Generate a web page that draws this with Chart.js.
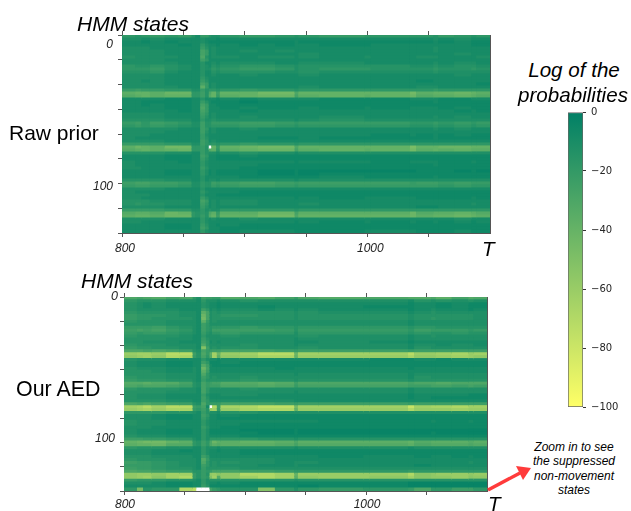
<!DOCTYPE html>
<html>
<head>
<meta charset="utf-8">
<script src="https://cdn.jsdelivr.net/npm/chart.js@4"></script>
<style>
  html, body { margin: 0; padding: 0; background: #fff; overflow: hidden; }
  body { position: relative; width: 631px; height: 511px; font-family: "Liberation Sans", sans-serif; color: #000; }
  canvas { position: absolute; }
  .heat { filter: blur(0.6px); }
  .txt { position: absolute; line-height: 1; font-size: 20.6px; white-space: nowrap; }
  .big { font-size: 21px; }
  .it { font-style: italic; }
  .mid { transform: translateX(-50%); }
  .note { position: absolute; left: 574px; top: 440px; transform: translateX(-50%); text-align: center; font-style: italic; font-size: 12px; line-height: 14.4px; white-space: nowrap; }
  svg { position: absolute; left: 0; top: 0; }
</style>
</head>
<body>
<canvas id="rawChart" class="heat" width="440" height="250" style="left:60px;top:20px"></canvas>
<canvas id="aedChart" class="heat" width="437" height="228" style="left:60px;top:282px"></canvas>
<canvas id="barChart" width="73" height="320" style="left:558px;top:100px"></canvas>

<div class="txt it big" style="left:77px;top:13px">HMM states</div>
<div class="txt it big" style="left:81px;top:270px">HMM states</div>
<div class="txt it" style="left:111px;top:290px;font-size:12.5px;color:#222">0</div>
<div class="txt big" style="left:9px;top:122px">Raw prior</div>
<div class="txt" style="left:16px;top:379px;font-size:21.4px">Our AED</div>
<div class="txt it" style="left:482px;top:239px">T</div>
<div class="txt it" style="left:488px;top:494px">T</div>
<div class="txt it mid" style="left:574px;top:60px">Log of the</div>
<div class="txt it mid" style="left:573px;top:85px">probabilities</div>
<div class="note">Zoom in to see<br>the suppressed<br>non-movement<br>states</div>
<svg width="631" height="511">
  <line x1="488" y1="490" x2="520" y2="473" stroke="#ff3b3b" stroke-width="3.5"/>
  <polygon points="531,468 516,466 523,480" fill="#ff3b3b"/>
</svg>

<script>
// start of each time block, blocks run to tEnd
const tStarts = [800,811,816,823,835,846,857,860,864,868,871,873,877,880,896,911,925,941,944,961,998,1003,1035,1040,1054,1058,1071,1085,1089];
const tEnd = 1100;
const tLabels = [800, 1000];
const stateTicks = [0, 16.67, 33.33, 50, 66.67, 83.33, 100, 116.67, 133.33];
const barTicks = [0, -20, -40, -60, -80, -100];

// one string per row of states, one base-36 digit per time block, log prob = digit * -3, "." = off the scale
const rawPrior = [
  "656767 5377544 6776 5 6766 6657656",
  "443433 3343332 3333 3 3333 3343433",
  "332323 3343222 2222 3 2222 2232322",
  "333332 3364332 3232 3 3223 3333322",
  "444333 3375343 3333 3 3333 3343333",
  "444433 3397343 3434 3 3333 3343333",
  "444433 3397343 3333 3 4333 3333433",
  "544443 33a5344 4344 3 4343 3443334",
  "444433 3386333 3333 3 3333 3333333",
  "444443 3353343 4443 3 4433 3343443",
  "655654 3354354 5665 4 5555 4454554",
  "666754 3354465 6776 4 5665 5565565",
  "555643 3353354 5554 4 5444 4454444",
  "444433 3353343 3433 3 4333 3333433",
  "444433 3364333 3333 3 3333 3333333",
  "443433 3375333 3333 3 3333 3233333",
  "444433 3397343 3333 3 3333 3333332",
  "444443 33c7343 3333 3 4333 3443333",
  "787766 4475665 6766 5 6666 6676666",
  "cddcee 6685ad8 ddff a dddd fcddedc",
  "bcdcdd 6685bd7 cdee 9 cdcd ebccdcb",
  "333322 3353332 3233 3 3222 3332233",
  "332222 3375322 2122 2 2222 2232222",
  "332322 3397332 2222 2 2222 2222222",
  "333322 33a7333 2322 2 3232 3332322",
  "333332 3397333 3233 3 3333 3333232",
  "444433 3386343 3333 3 3333 3333333",
  "444433 3375343 3433 3 3433 3343433",
  "555544 3364454 4444 3 4544 4444444",
  "786876 4485577 7887 6 7777 6676767",
  "676765 4485566 6776 5 6666 5565656",
  "444443 3386343 3433 3 3333 3343433",
  "444433 3385343 3333 3 3333 3333333",
  "444333 3374333 3333 3 3332 3232322",
  "433333 3375333 3322 2 3222 2232222",
  "444433 3386343 3333 3 3333 3333333",
  "777766 4486565 6766 5 6666 6666666",
  "cedcff 6675.d7 deff a dddd gddeedd",
  "bcdcde 6675bc6 cdee 9 cdcd fcdcdcc",
  "555544 3375443 4544 3 4444 4444444",
  "333322 3386332 2322 2 2222 2222222",
  "333322 3375332 2222 2 2222 2222222",
  "433332 3364333 3333 2 3332 3332232",
  "433333 3364333 3322 2 2222 2232222",
  "443333 3375333 3222 2 2222 2222222",
  "333322 3364232 2211 2 1111 1222121",
  "333322 3364232 2211 2 1222 2222222",
  "333333 3353333 3222 2 2322 2232222",
  "555544 3353443 4444 3 4444 4444444",
  "899887 4465587 8998 7 8888 7887877",
  "788776 4465576 7887 6 7777 7776766",
  "444433 3353333 3333 3 3333 3333333",
  "433333 3364333 3222 2 2222 2222222",
  "444333 3353332 2222 2 2222 2222222",
  "443333 3375333 3333 2 3233 3222232",
  "555444 3397343 4433 3 3333 3333333",
  "565544 3386343 4433 3 4333 3333343",
  "444433 3375343 3333 3 3333 3223333",
  "777766 4464544 6666 5 6666 6666666",
  "bccbed 6565ac7 ccee 9 cccc ebccdcb",
  "cddcee 6575bd8 ddff a dddd ecddedc",
  "444433 3364343 3433 3 3333 3333433",
  "443333 3364333 3333 2 3232 3232323",
  "333322 3375332 3222 2 2222 2222222",
  "333322 3386333 2222 2 2222 2222222",
  "333333 3364333 2333 2 2233 3222322"
];

const ourAed = [
  "a9ab9a 6498877 bab9 7 abaa bbac9ba",
  "655544 4364443 4544 4 4444 3545454",
  "543433 3354332 3333 3 3333 2332322",
  "543433 3354332 3323 3 3322 2332322",
  "544443 3386343 4434 3 4333 2343323",
  "655554 43c9454 5555 4 5444 3454444",
  "766654 43e9455 6655 4 5555 4555554",
  "766555 43f9455 5555 4 5555 4565554",
  "655544 43c7454 4444 4 4444 3444444",
  "555544 4386444 4444 4 4444 3444444",
  "777865 4386566 6766 5 6666 5665555",
  "898976 4386588 8887 5 7777 6877767",
  "767765 4375466 7666 4 6666 5655655",
  "655554 3364444 5444 4 5444 3454444",
  "555544 3375444 4444 3 4444 3444444",
  "554443 3386343 4444 3 3443 2333333",
  "655544 43a6444 4544 3 4444 3443443",
  "766554 43h8454 5544 4 5444 3544444",
  "aa9a98 5497788 9998 7 8888 7888888",
  "kllkoo 85a7cle kloo e llll okklmkl",
  "jkljnm 7596blc jkmm d kkkk mjjklkj",
  "544433 3364332 3333 3 3332 2332333",
  "433322 3386222 3222 2 2222 2222222",
  "433322 33b8322 2222 2 2222 2222222",
  "544433 43e9333 3332 3 3333 2333333",
  "555433 43c8333 3333 3 3333 3333333",
  "555544 43a6444 4444 3 4444 3444444",
  "655544 4386454 4544 4 4444 3544444",
  "766655 4375555 5655 4 5555 4555555",
  "bbcbb9 5497899 bbcb 8 aaaa 9aabaaa",
  "a9aa98 5497888 aaba 7 9999 8899898",
  "655554 4396444 4544 4 4444 3444444",
  "555544 4396444 4444 3 4444 3444444",
  "544433 3374333 4433 3 3333 2333322",
  "544433 3385333 3333 3 3333 2322222",
  "555544 3386444 4444 3 3333 3333333",
  "a9a988 54a6777 9998 7 8888 7888888",
  "lmoloo 8793.n8 mnpp f llll qlmmnll",
  "klmkmm 7685kl7 kmnn d kkkk nkkklkk",
  "666655 4375443 5544 4 4444 4444444",
  "444322 3386332 3222 2 2222 2222222",
  "444322 3375332 2222 2 2222 2222222",
  "544433 3364333 3333 3 3222 2232232",
  "544433 3364333 3222 2 2222 2222222",
  "444333 3375333 2222 2 2222 2222222",
  "433322 3364222 2111 2 1111 1111111",
  "433322 3364222 2211 2 1111 1121111",
  "544433 3364333 3222 2 2222 2222222",
  "887766 4364666 6655 4 5555 5555555",
  "deffdc 6586aec cddc a cccc dbcccbc",
  "cddebb 6586acb cccb 9 bbbb cabbbab",
  "655544 3364443 4444 3 4444 3444444",
  "444332 3364332 3222 2 2222 2222222",
  "444333 3364333 3222 2 2222 2222222",
  "555444 3386333 3333 3 3233 3233232",
  "655544 43b7444 4443 3 3333 3333333",
  "877654 43a6454 5443 4 4333 3333343",
  "777654 4386454 4433 4 3333 3233333",
  "877655 4375555 5444 4 4444 4444444",
  "a99877 5576799 9887 6 6666 7666666",
  "jkkjll 7575jki jnnl d kkkk nijkkjk",
  "jkliln 7576hlb jlnl c jkkj lijjkij",
  "766655 4364555 5555 4 5555 5555555",
  "444322 3364332 3222 2 2222 1111111",
  "333322 3375222 2222 2 1222 1111111",
  "6g566n p...976 55h6 4 6766 7a66886"
];

const axisColor = "#555";
const sans = "'Liberation Sans', sans-serif";

// summer_r colormap
function logColor(v) {
  if (isNaN(v)) return "#fff";
  const r = -v / 100;
  return `rgb(${Math.round(255 * r)},${Math.round(128 + 127 * r)},102)`;
}

function cellValue(row, col) {
  const ch = row.replace(/ /g, "").charAt(col);
  return ch === "." ? NaN : parseInt(ch, 36) * -3;
}

function fixSize(prop, size) {
  return (scale) => { scale[prop] = size; };
}

function heatmap(id, rows, g) {
  // blocks run to tEnd and later ones paint over earlier ones, so no seams show between them
  // (chart.js draws low "order" last)
  const datasets = tStarts.map((t, col) => ({
    data: rows.map(() => [t, tEnd]),
    backgroundColor: rows.map((row) => logColor(cellValue(row, col))),
    borderWidth: 0,
    grouped: false,
    order: -col,
    barThickness: 3.5
  }));

  const tickGrid = { drawOnChartArea: false, tickLength: 4, tickColor: axisColor, offset: false };
  const edge = { color: axisColor, width: 1 };
  const tScale = (pos, size, showLabels, padding) => ({
    type: "linear",
    axis: "x",
    position: pos,
    min: 800,
    max: tEnd,
    grid: tickGrid,
    border: edge,
    afterFit: fixSize("height", size),
    afterBuildTicks: (s) => { s.ticks = s.ticks.filter((t) => t.value < tEnd); },
    ticks: {
      stepSize: 50,
      autoSkip: false,
      maxRotation: 0,
      padding: padding,
      labelOffset: g.xOffset,
      color: "#222",
      font: { family: sans, size: 12, style: "italic" },
      callback: (v) => (showLabels && tLabels.includes(v) ? String(v) : "")
    }
  });

  new Chart(document.getElementById(id), {
    type: "bar",
    data: { labels: rows.map((_, i) => i), datasets: datasets },
    options: {
      indexAxis: "y",
      responsive: false,
      animation: false,
      plugins: { legend: { display: false }, tooltip: { enabled: false } },
      scales: {
        y: { type: "category", display: false },
        x: tScale("bottom", g.bottom, true, g.xPadding),
        xTop: tScale("top", 15, false, 0),
        states: {
          type: "linear",
          axis: "y",
          position: "left",
          reverse: true,
          offset: false,
          min: 0,
          max: 133.33,
          grid: tickGrid,
          border: edge,
          afterFit: fixSize("width", g.left),
          afterBuildTicks: (s) => { s.ticks = stateTicks.map((v) => ({ value: v })); },
          ticks: {
            autoSkip: false,
            padding: 5,
            labelOffset: g.yOffset,
            color: "#222",
            font: { family: sans, size: 12, style: "italic", lineHeight: g.lineHeight },
            callback: (v) => (v === 0 ? g.zero : v === 100 ? g.hundred : "")
          }
        },
        rightEdge: {
          type: "linear",
          axis: "y",
          position: "right",
          offset: false,
          min: 0,
          max: 1,
          grid: { display: false },
          border: edge,
          ticks: { display: false },
          afterFit: fixSize("width", 10)
        }
      }
    }
  });
}

heatmap("rawChart", rawPrior, {
  left: 62, bottom: 37, xOffset: 3, xPadding: 4,
  yOffset: 3, lineHeight: "14px", zero: ["", "0"], hundred: "100"
});

// the "0" of this chart sits right on the top edge, it is a div in the page above
heatmap("aedChart", ourAed, {
  left: 64, bottom: 19, xOffset: 1, xPadding: 2,
  yOffset: 0, lineHeight: "8px", zero: "", hundred: ["100", ""]
});

// colour bar
new Chart(document.getElementById("barChart"), {
  type: "bar",
  data: {
    labels: [""],
    datasets: [{
      data: [[-100, 0]],
      backgroundColor: (ctx) => {
        const area = ctx.chart.chartArea;
        if (!area) return logColor(-50);
        const grad = ctx.chart.ctx.createLinearGradient(0, area.top, 0, area.bottom);
        grad.addColorStop(0, logColor(0));
        grad.addColorStop(1, logColor(-100));
        return grad;
      },
      borderColor: "#666",
      borderWidth: 1,
      borderSkipped: false,
      barPercentage: 1,
      categoryPercentage: 1
    }]
  },
  options: {
    responsive: false,
    animation: false,
    layout: { padding: { left: 10, top: 12, bottom: 13 } },
    plugins: { legend: { display: false }, tooltip: { enabled: false } },
    scales: {
      x: { display: false },
      y: {
        position: "right",
        min: -100,
        max: 0,
        afterFit: fixSize("width", 48),
        afterBuildTicks: (s) => { s.ticks = barTicks.map((v) => ({ value: v })); },
        grid: { drawOnChartArea: false, tickLength: 3, tickColor: "#333" },
        border: { display: false },
        ticks: {
          padding: 5,
          color: "#262626",
          font: { family: "'DejaVu Sans', sans-serif", size: 10 },
          callback: (v) => String(v).replace("-", "\u2212")
        }
      }
    }
  }
});
</script>
</body>
</html>
